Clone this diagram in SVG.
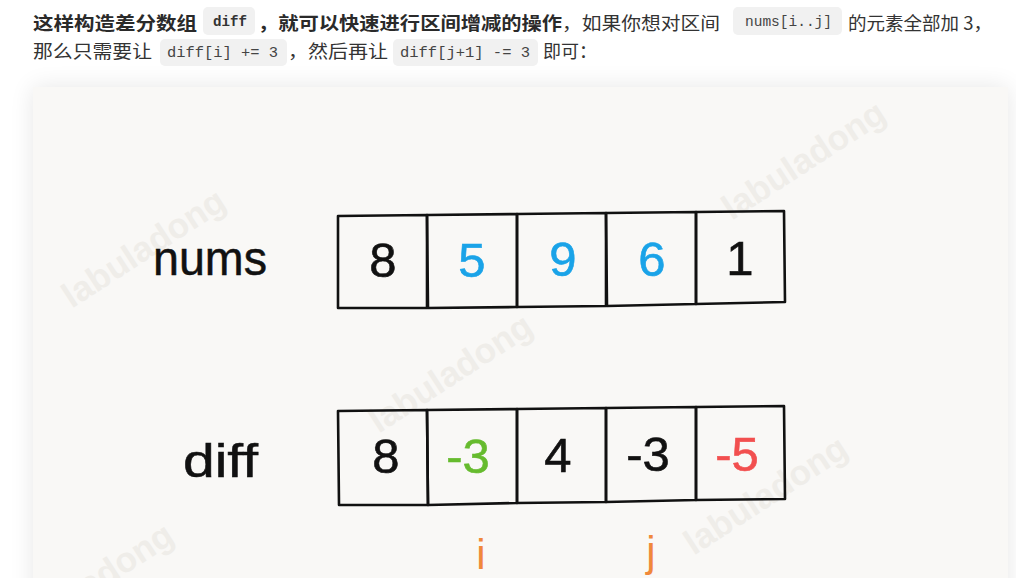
<svg xmlns="http://www.w3.org/2000/svg" width="1016" height="578" viewBox="0 0 1016 578">
  <style>
    .cjk{font-family:"Noto Sans CJK SC","Noto Sans",sans-serif;font-size:18px;fill:#333}
    .b{font-weight:bold;fill:#2a2a2a}
    .code{font-family:"Liberation Mono","DejaVu Sans Mono",monospace;font-size:14px;fill:#444}
    .codebg{fill:#f1f1f1}
    .cell{fill:none;stroke:#111;stroke-width:2.6;stroke-linejoin:round}
    .num{font-family:"Liberation Sans",Arial,sans-serif;font-size:49px;text-anchor:middle;stroke-width:0.6}
    .lbl{font-family:"Liberation Sans",Arial,sans-serif;fill:#111;stroke:#111;stroke-width:0.5}
    .wm{font-family:"Liberation Sans",Arial,sans-serif;font-weight:bold;font-size:35px;fill:#efede9;text-anchor:middle}
    .idx{font-family:"Liberation Sans",Arial,sans-serif;font-size:42px;fill:#f0883a;text-anchor:middle}
  </style>
  <defs>
    <filter id="sh" x="-10%" y="-10%" width="120%" height="130%">
      <feGaussianBlur in="SourceAlpha" stdDeviation="12"/>
      <feComponentTransfer><feFuncA type="linear" slope="0.10"/></feComponentTransfer>
      <feMerge><feMergeNode/><feMergeNode in="SourceGraphic"/></feMerge>
    </filter>
  </defs>
  <rect width="1016" height="578" fill="#ffffff"/>

  <!-- text paragraph -->
  <g id="paragraph">
    <text class="cjk b" x="33" y="30" textLength="164" lengthAdjust="spacingAndGlyphs">这样构造差分数组</text>
    <rect class="codebg" x="203" y="7" width="52" height="28" rx="5"/>
    <text class="code" x="213" y="26" textLength="34" lengthAdjust="spacingAndGlyphs" style="font-weight:bold;fill:#333">diff</text>
    <text class="cjk b" x="258" y="30" textLength="304" lengthAdjust="spacingAndGlyphs">，就可以快速进行区间增减的操作</text>
    <text class="cjk" x="562" y="30" textLength="158" lengthAdjust="spacingAndGlyphs">，如果你想对区间</text>
    <rect class="codebg" x="733" y="7" width="109" height="28" rx="5"/>
    <text class="code" x="745" y="26" textLength="87" lengthAdjust="spacingAndGlyphs">nums[i..j]</text>
    <text class="cjk" x="848" y="30" textLength="144" lengthAdjust="spacingAndGlyphs">的元素全部加 3，</text>

    <text class="cjk" x="33" y="58" textLength="119" lengthAdjust="spacingAndGlyphs">那么只需要让</text>
    <rect class="codebg" x="160" y="39" width="127" height="27" rx="5"/>
    <text class="code" x="167" y="57" textLength="111" lengthAdjust="spacingAndGlyphs">diff[i] += 3</text>
    <text class="cjk" x="288" y="58" textLength="100" lengthAdjust="spacingAndGlyphs">，然后再让</text>
    <rect class="codebg" x="393" y="39" width="145" height="27" rx="5"/>
    <text class="code" x="400" y="57" textLength="130" lengthAdjust="spacingAndGlyphs">diff[j+1] -= 3</text>
    <text class="cjk" x="543" y="58" textLength="54" lengthAdjust="spacingAndGlyphs">即可：</text>
  </g>

  <!-- image panel -->
  <rect x="33" y="87" width="975" height="520" fill="#f9f8f6" filter="url(#sh)"/>

  <!-- watermarks -->
  <g id="watermarks">
    <text class="wm" transform="translate(150,258) rotate(-33)">labuladong</text>
    <text class="wm" transform="translate(810,170) rotate(-33)">labuladong</text>
    <text class="wm" transform="translate(457,383) rotate(-33)">labuladong</text>
    <text class="wm" transform="translate(772,505) rotate(-33)">labuladong</text>
    <text class="wm" transform="translate(98,592) rotate(-33)">labuladong</text>
  </g>

  <!-- labels -->
  <g id="label-nums">
    <text class="lbl" x="153" y="275" font-size="48" textLength="114" lengthAdjust="spacingAndGlyphs">nums</text>
  </g>
  <g id="label-diff">
    <text class="lbl" x="183" y="477" font-size="47" textLength="75" lengthAdjust="spacingAndGlyphs">diff</text>
  </g>

  <!-- nums array -->
  <g id="nums-0"><path class="cell" d="M338,216 L427,215 L427,308 L338,308 Z"/><text class="num" x="383" y="277" fill="#111" stroke="#111">8</text></g>
  <g id="nums-1"><path class="cell" d="M427,215 L517,214 L517,307 L428,308 Z"/><text class="num" x="472" y="277" fill="#1aa3e8" stroke="#1aa3e8">5</text></g>
  <g id="nums-2"><path class="cell" d="M517,214 L606,213 L606,306 L517,307 Z"/><text class="num" x="563" y="276" fill="#1aa3e8" stroke="#1aa3e8">9</text></g>
  <g id="nums-3"><path class="cell" d="M606,213 L696,212 L696,304 L607,306 Z"/><text class="num" x="652" y="276" fill="#1aa3e8" stroke="#1aa3e8">6</text></g>
  <g id="nums-4"><path class="cell" d="M696,212 L784,211 L785,302 L696,304 Z"/><text class="num" x="740" y="275" fill="#111" stroke="#111">1</text></g>

  <!-- diff array -->
  <g id="diff-0"><path class="cell" d="M338,411 L427,410 L428,505 L339,505 Z"/><text class="num" x="386" y="473" fill="#111" stroke="#111">8</text></g>
  <g id="diff-1"><path class="cell" d="M427,410 L517,409 L517,503 L428,505 Z"/><text class="num" x="468" y="473" fill="#66bb2e" stroke="#66bb2e">-3</text></g>
  <g id="diff-2"><path class="cell" d="M517,409 L606,408 L606,502 L517,503 Z"/><text class="num" x="558" y="472" fill="#111" stroke="#111">4</text></g>
  <g id="diff-3"><path class="cell" d="M606,408 L696,407 L696,500 L606,502 Z"/><text class="num" x="648" y="471" fill="#111" stroke="#111">-3</text></g>
  <g id="diff-4"><path class="cell" d="M696,407 L784,406 L785,499 L696,500 Z"/><text class="num" x="737" y="471" fill="#f24f4f" stroke="#f24f4f">-5</text></g>

  <!-- index labels -->
  <g id="idx-i"><text class="idx" x="481" y="569">i</text></g>
  <g id="idx-j"><text class="idx" x="651" y="566">j</text></g>
</svg>
